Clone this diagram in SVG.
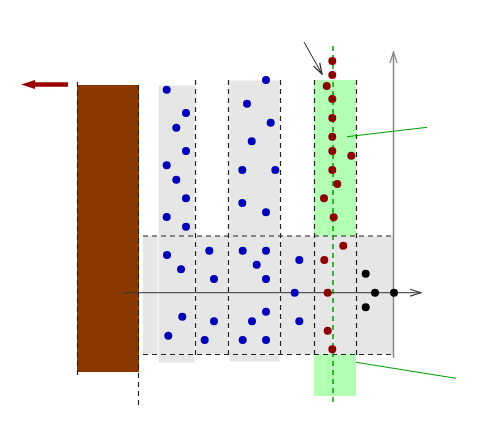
<svg xmlns="http://www.w3.org/2000/svg" width="479" height="429" viewBox="0 0 479 429">
<defs>
<style>
.dash{stroke:#222;stroke-width:1.2;stroke-dasharray:5,4;fill:none}
.col{fill:#e6e6e6;stroke:#fff;stroke-width:1}
.b{fill:#0000bb}
.r{fill:#8b0000}
.k{fill:#000}
.g{stroke:#00a000;stroke-width:1;fill:none}
</style>
<marker id="open" viewBox="0 0 12 10" refX="11" refY="5" markerWidth="12" markerHeight="10" markerUnits="userSpaceOnUse" orient="auto">
<path d="M0,1.5 L11,5 L0,8.5" fill="none" stroke="context-stroke" stroke-width="1.2"/>
</marker>
</defs>
<rect width="479" height="429" fill="#fff"/>
<g id="green-column">
<rect x="314" y="80" width="42" height="316" fill="#b3ffb3"/>
</g>
<g id="band">
<rect x="143" y="236" width="250" height="118.5" fill="#e6e6e6"/>
</g>
<g id="column1">
<rect class="col" x="158" y="85" width="37" height="278"/>
</g>
<g id="column2">
<rect class="col" x="229" y="80" width="51" height="282"/>
</g>
<g id="wall">
<rect x="77" y="85" width="62" height="287" fill="#8b3800"/>
</g>
<g id="connectors">
<line class="dash" x1="77.5" y1="82" x2="77.5" y2="378"/>
<line class="dash" x1="138.5" y1="85" x2="138.5" y2="406"/>
<line class="dash" x1="195.5" y1="80" x2="195.5" y2="356"/>
<line class="dash" x1="228.5" y1="80" x2="228.5" y2="358"/>
<line class="dash" x1="280.5" y1="80" x2="280.5" y2="355"/>
<line class="dash" x1="314.5" y1="80" x2="314.5" y2="357"/>
<line class="dash" x1="356.5" y1="80" x2="356.5" y2="355"/>
<line class="dash" x1="143" y1="236" x2="393" y2="236"/>
<line class="dash" x1="143" y1="354.5" x2="393" y2="354.5"/>
<line x1="333" y1="46" x2="333" y2="402" stroke="#00a000" stroke-width="1.5" stroke-dasharray="5,4"/>
<line x1="124" y1="292.7" x2="421" y2="292.7" stroke="#333" stroke-width="1" marker-end="url(#open)"/>
<line x1="393.5" y1="358" x2="393.5" y2="52" stroke="#888" stroke-width="1.5" marker-end="url(#open)"/>
<line x1="304" y1="42" x2="322" y2="74" stroke="#222" stroke-width="1" marker-end="url(#open)"/>
<line class="g" x1="347" y1="136.7" x2="427" y2="127.3"/>
<line class="g" x1="356" y1="362.3" x2="456" y2="378.3"/>
<line x1="68" y1="84.5" x2="33" y2="84.5" stroke="#990000" stroke-width="4.5"/>
<path d="M21,84.5 L35,80 L35,89 Z" fill="#990000"/>
</g>
<g id="blue-dots">
<circle class="b" cx="166.7" cy="89.7" r="4"/>
<circle class="b" cx="186" cy="113" r="4"/>
<circle class="b" cx="176.3" cy="127.7" r="4"/>
<circle class="b" cx="186" cy="151" r="4"/>
<circle class="b" cx="166.7" cy="165.3" r="4"/>
<circle class="b" cx="176.3" cy="179.7" r="4"/>
<circle class="b" cx="186" cy="198.3" r="4"/>
<circle class="b" cx="166.7" cy="217" r="4"/>
<circle class="b" cx="186" cy="226.7" r="4"/>
<circle class="b" cx="266" cy="80" r="4"/>
<circle class="b" cx="247" cy="103.7" r="4"/>
<circle class="b" cx="270.7" cy="122.7" r="4"/>
<circle class="b" cx="251.7" cy="141.3" r="4"/>
<circle class="b" cx="242.3" cy="170" r="4"/>
<circle class="b" cx="275.3" cy="170" r="4"/>
<circle class="b" cx="242.3" cy="203" r="4"/>
<circle class="b" cx="266" cy="212.3" r="4"/>
<circle class="b" cx="167" cy="255" r="4"/>
<circle class="b" cx="181" cy="269.3" r="4"/>
<circle class="b" cx="209.3" cy="250.7" r="4"/>
<circle class="b" cx="214" cy="279" r="4"/>
<circle class="b" cx="242.7" cy="250.7" r="4"/>
<circle class="b" cx="266" cy="250.7" r="4"/>
<circle class="b" cx="256.7" cy="264.7" r="4"/>
<circle class="b" cx="266" cy="279" r="4"/>
<circle class="b" cx="299.3" cy="260" r="4"/>
<circle class="b" cx="294.7" cy="292.7" r="4"/>
<circle class="b" cx="299.3" cy="321.3" r="4"/>
<circle class="b" cx="182.3" cy="316.7" r="4"/>
<circle class="b" cx="168.3" cy="335.7" r="4"/>
<circle class="b" cx="214" cy="321.3" r="4"/>
<circle class="b" cx="204.7" cy="340" r="4"/>
<circle class="b" cx="266" cy="311.7" r="4"/>
<circle class="b" cx="252" cy="321.3" r="4"/>
<circle class="b" cx="242.7" cy="340" r="4"/>
<circle class="b" cx="266" cy="340" r="4"/>
</g>
<g id="red-dots">
<circle class="r" cx="332.3" cy="61" r="4"/>
<circle class="r" cx="332.3" cy="75" r="4"/>
<circle class="r" cx="326.7" cy="86" r="4"/>
<circle class="r" cx="332.3" cy="99" r="4"/>
<circle class="r" cx="332.3" cy="118" r="4"/>
<circle class="r" cx="332.3" cy="136.7" r="4"/>
<circle class="r" cx="332.3" cy="151" r="4"/>
<circle class="r" cx="351.3" cy="155.7" r="4"/>
<circle class="r" cx="332.3" cy="170" r="4"/>
<circle class="r" cx="337.3" cy="184" r="4"/>
<circle class="r" cx="324" cy="198.3" r="4"/>
<circle class="r" cx="333.7" cy="217.3" r="4"/>
<circle class="r" cx="343.3" cy="245.7" r="4"/>
<circle class="r" cx="324.3" cy="260" r="4"/>
<circle class="r" cx="327.7" cy="292.7" r="4"/>
<circle class="r" cx="327.7" cy="330.7" r="4"/>
<circle class="r" cx="332.3" cy="349.3" r="4"/>
</g>
<g id="black-dots">
<circle class="k" cx="365.7" cy="273.7" r="4"/>
<circle class="k" cx="375" cy="292.7" r="4"/>
<circle class="k" cx="394" cy="292.7" r="4"/>
<circle class="k" cx="365.7" cy="307.3" r="4"/>
</g>
</svg>
